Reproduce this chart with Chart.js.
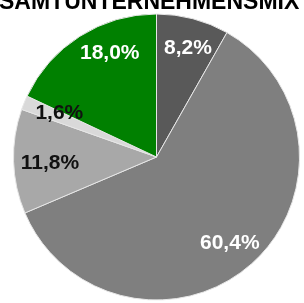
<!DOCTYPE html>
<html>
<head>
<meta charset="utf-8">
<script src="https://cdn.jsdelivr.net/npm/chart.js@4"></script>
<style>
    html, body { margin: 0; padding: 0; background: #ffffff; overflow: hidden; }
    #wrap { width: 304px; height: 303px; }
</style>
</head>
<body>
<div id="wrap"><canvas id="mix" width="304" height="303"></canvas></div>
<script>
// Gesamtunternehmensmix, shares in percent, clockwise from 12 o'clock
var segments = ["Segment 1", "Segment 2", "Segment 3", "Segment 4", "Segment 5"];
var shares = [8.2, 60.4, 11.8, 1.6, 18.0];
var titleText = "GESAMTUNTERNEHMENSMIX";

var sliceColors = ["#595959", "#7f7f7f", "#a8a8a8", "#d9d9d9", "#008000"];
var labelColors = ["#ffffff", "#ffffff", "#111111", "#111111", "#ffffff"];
// small hand nudges so the labels sit where the original put them
var labelNudge = [[3, -1], [-1, 3], [5, 3], [6, -1], [13, -10]];

function formatShare(v) {
    return v.toFixed(1).replace(".", ",") + "%";
}

// title sits partly above the visible area, like the cropped original
var cutTitle = {
    id: "cutTitle",
    afterDraw: function (chart) {
        var ctx = chart.ctx;
        ctx.save();
        ctx.font = "bold 23px 'Liberation Sans', Arial, sans-serif";
        ctx.fillStyle = "#000000";
        ctx.textAlign = "left";
        ctx.textBaseline = "alphabetic";
        var lead = ctx.measureText("GE").width;
        ctx.fillText(titleText, -lead - 1, 9);
        ctx.restore();
    }
};

var sliceLabels = {
    id: "sliceLabels",
    afterDatasetsDraw: function (chart) {
        var ctx = chart.ctx;
        var meta = chart.getDatasetMeta(0);
        ctx.save();
        ctx.font = "bold 21px 'Liberation Sans', Arial, sans-serif";
        ctx.textAlign = "center";
        ctx.textBaseline = "middle";
        meta.data.forEach(function (arc, i) {
            var p = arc.getProps(["x", "y", "startAngle", "endAngle", "outerRadius"], true);
            var mid = (p.startAngle + p.endAngle) / 2;
            var r = p.outerRadius * 0.78;
            ctx.fillStyle = labelColors[i];
            ctx.fillText(formatShare(shares[i]),
                p.x + Math.cos(mid) * r + labelNudge[i][0],
                p.y + Math.sin(mid) * r + labelNudge[i][1]);
        });
        ctx.restore();
    }
};

new Chart(document.getElementById("mix"), {
    type: "pie",
    data: {
        labels: segments,
        datasets: [{
            data: shares,
            backgroundColor: sliceColors,
            borderColor: "#e6e6e6",
            borderWidth: 1
        }]
    },
    options: {
        responsive: false,
        animation: false,
        layout: { padding: { left: 13, right: 4, top: 13, bottom: 2 } },
        plugins: {
            legend: { display: false },
            title: { display: false },
            tooltip: { enabled: false }
        }
    },
    plugins: [sliceLabels, cutTitle]
});
</script>
</body>
</html>
